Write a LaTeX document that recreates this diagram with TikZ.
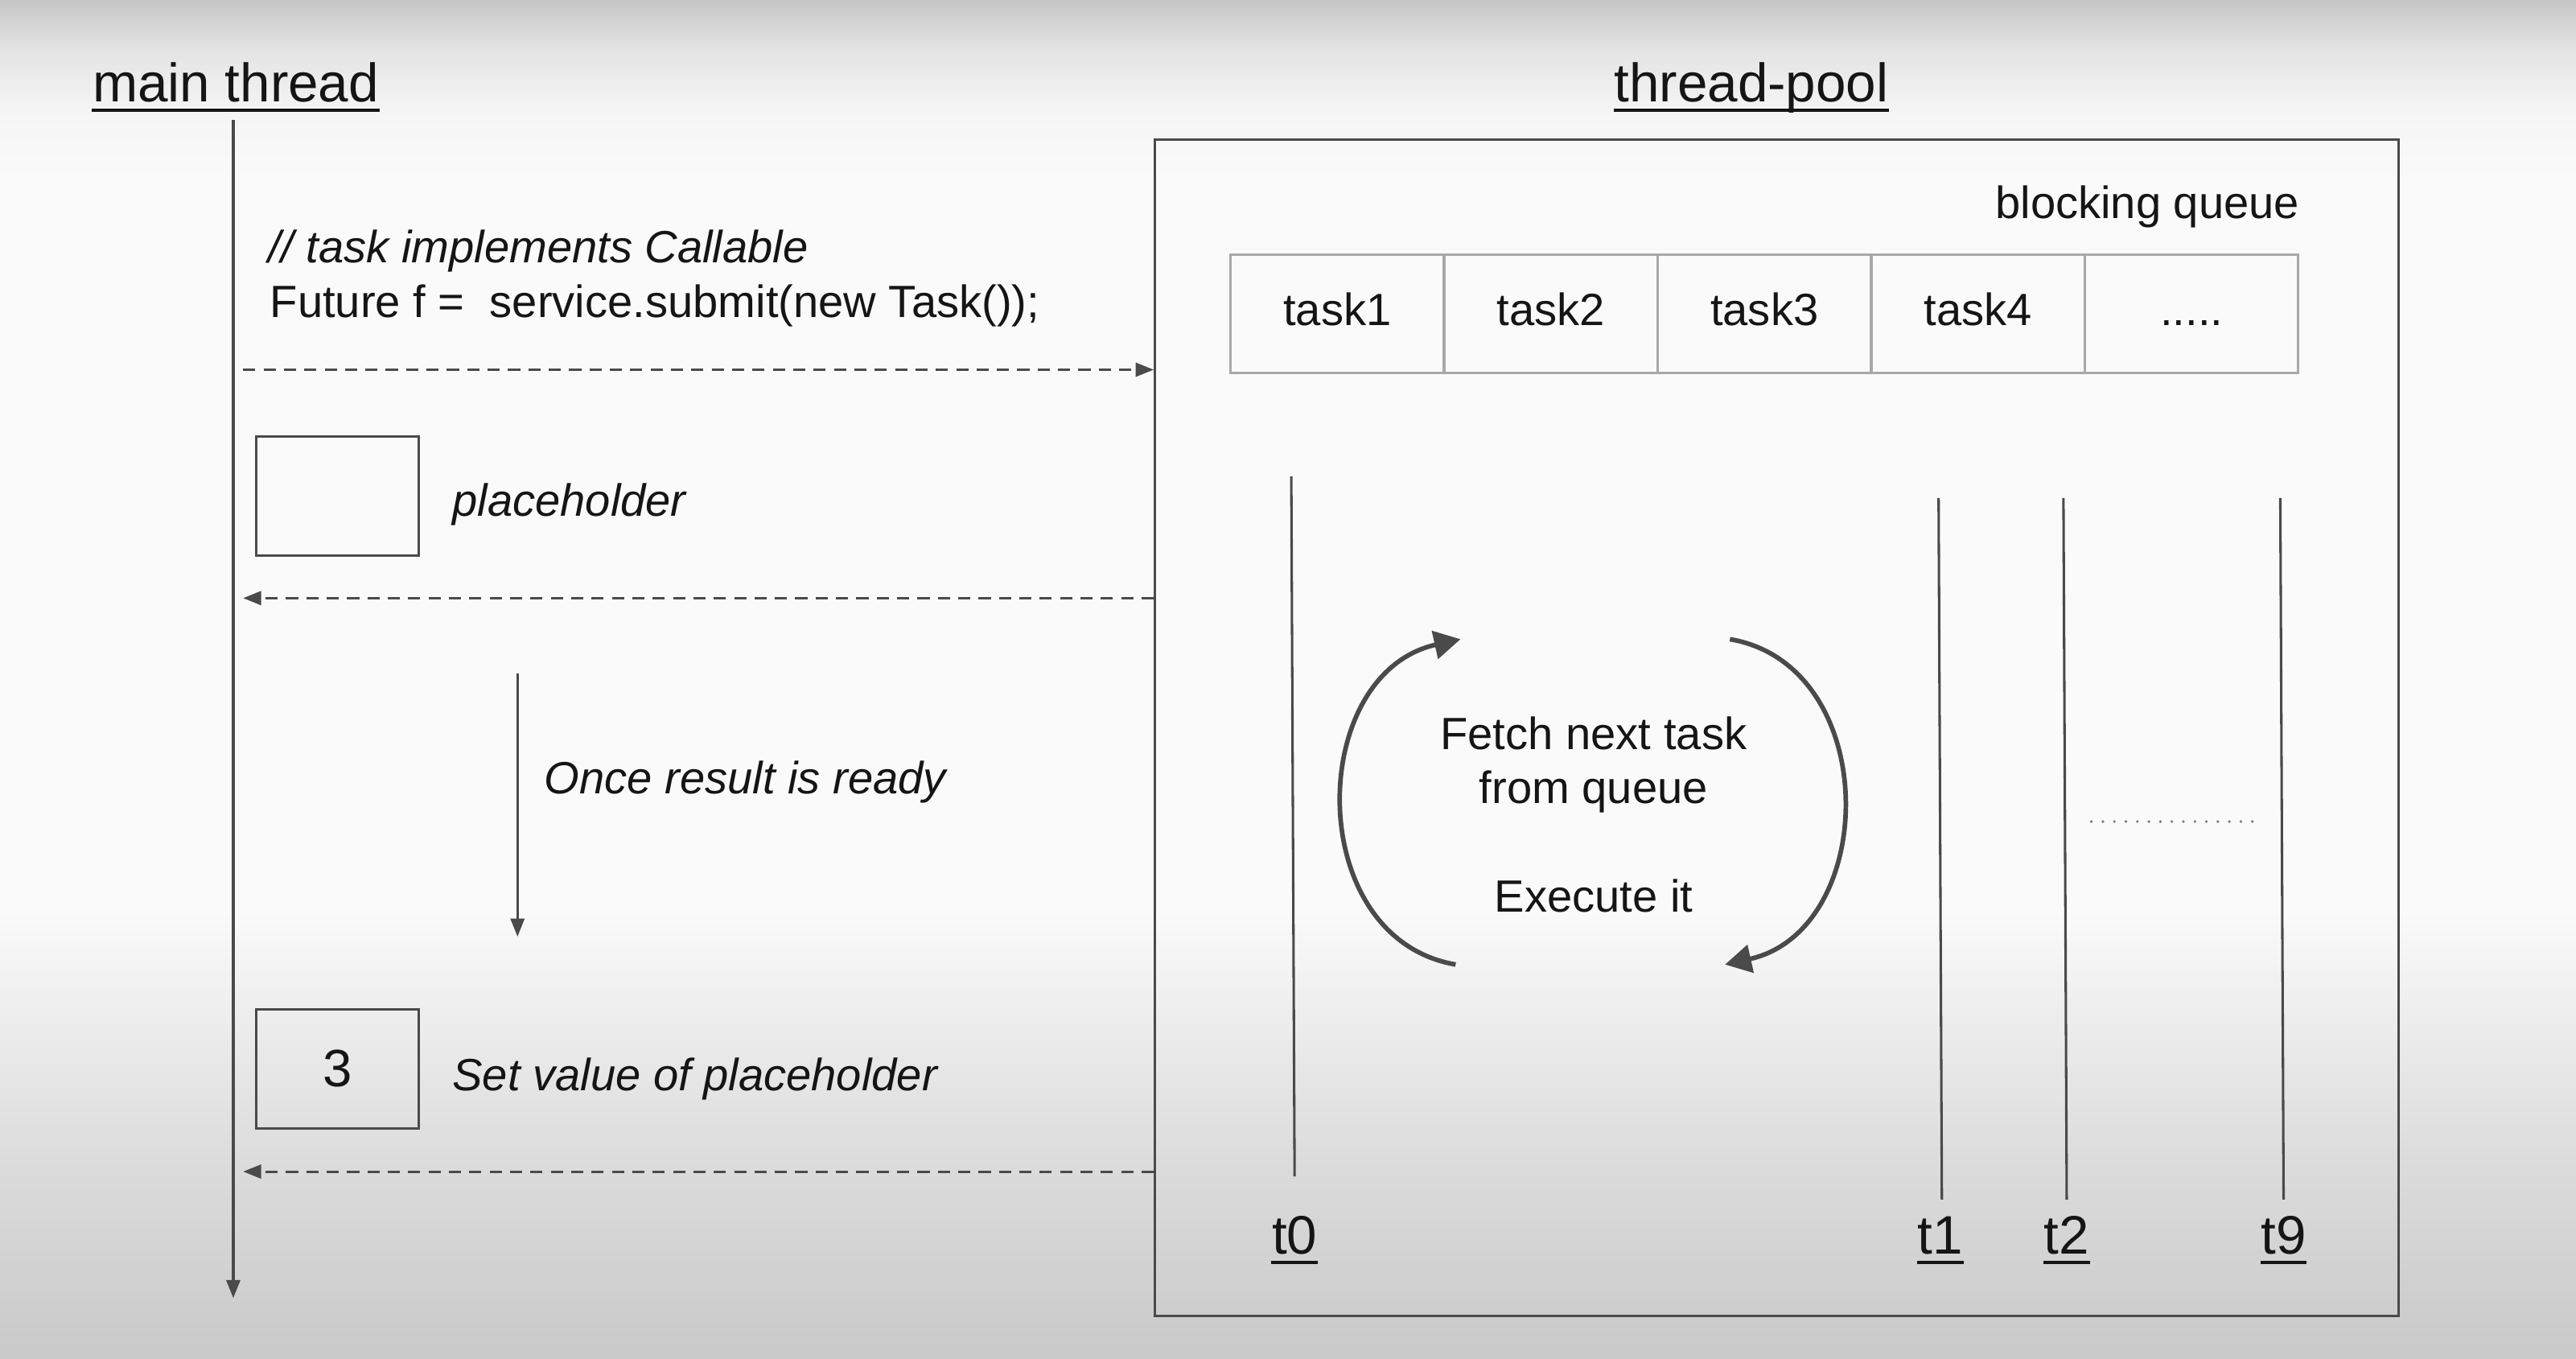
\documentclass[tikz,border=0pt]{standalone}
\usepackage{fontspec}
\setmainfont{Liberation Sans}
\usetikzlibrary{arrows.meta}
\definecolor{ln}{HTML}{4A4A4A}
\definecolor{qb}{HTML}{A8A8A8}
\definecolor{tx}{HTML}{151515}
\definecolor{dotc}{HTML}{7A7A7A}
\definecolor{bgtop}{HTML}{C6C6C6}
\definecolor{bgzero}{HTML}{E4E4E4}
\definecolor{bgone}{HTML}{F6F6F6}
\definecolor{bgmid}{HTML}{FAFAFA}
\definecolor{bgfour}{HTML}{F1F1F1}
\definecolor{bgthree}{HTML}{DDDDDD}
\definecolor{bgbot}{HTML}{C9C9C9}
\tikzset{
  thinline/.style={draw=ln, line width=0.75pt},
  dasharrow/.style={draw=ln, line width=0.75pt, dash pattern=on 3.7pt off 2.5pt, -{Triangle[length=5.5pt,width=4.2pt]}},
  solidarrow/.style={draw=ln, line width=0.75pt, -{Triangle[length=5.5pt,width=4.2pt]}},
  looparrow/.style={draw=ln, line width=1.4pt, -{Triangle[length=8pt,width=8.5pt]}},
  titletext/.style={inner sep=0pt, text=tx, font=\fontsize{16.5}{19}\selectfont},
  bodytext/.style={inner sep=0pt, text=tx, font=\fontsize{13.75}{16}\selectfont},
  ittext/.style={inner sep=0pt, text=tx, font=\fontsize{13.75}{16}\selectfont\itshape},
  cell/.style={draw=qb, line width=0.75pt, minimum width=65pt, minimum height=36pt, inner sep=0pt,
               text=tx, font=\fontsize{13.75}{16}\selectfont, text height=9pt, text depth=2pt},
  valbox/.style={draw=ln, line width=0.75pt, minimum width=49.5pt, minimum height=36.25pt, inner sep=0pt, text=tx},
  threadline/.style={draw=ln, line width=0.75pt},
  uline/.style={draw=tx, line width=0.9pt},
  dotline/.style={draw=dotc, line width=0.9pt, line cap=round, dash pattern=on 0pt off 3.5pt}
}
\begin{document}
\begin{tikzpicture}[x=0.5pt, y=-0.5pt]
  % background
  \useasboundingbox (0,0) rectangle (1568,826.6);
  \shade[top color=bgtop, bottom color=bgzero] (0,0) rectangle (1568,30.5);
  \shade[top color=bgzero, bottom color=bgone] (0,30) rectangle (1568,70.5);
  \shade[top color=bgone, bottom color=bgmid] (0,70) rectangle (1568,110.5);
  \fill[bgmid] (0,110) rectangle (1568,555.5);
  \shade[top color=bgmid, bottom color=bgfour] (0,555) rectangle (1568,600.5);
  \shade[top color=bgfour, bottom color=bgthree] (0,600) rectangle (1568,700.5);
  \shade[top color=bgthree, bottom color=bgbot] (0,700) rectangle (1568,826.6);

  % titles
  \node[titletext, anchor=base west] (mainT) at (56,62) {main thread};
  \draw[uline] ([yshift=-2.6pt]mainT.base west) -- ([yshift=-2.6pt]mainT.base east);
  \node[titletext, anchor=base] (poolT) at (1066,62) {thread-pool};
  \draw[uline] ([yshift=-2.6pt]poolT.base west) -- ([yshift=-2.6pt]poolT.base east);

  % main thread line
  \coordinate (mtop) at (142,73);
  \coordinate (mbot) at (142,790);
  \draw[solidarrow] (mtop) -- (mbot);

  % thread pool box
  \node[thinline, minimum width=378.5pt, minimum height=358pt, inner sep=0pt] (pool) at (1081.5,443) {};
  \node[bodytext, anchor=base east] (bq) at (1400,133) {blocking queue};

  % queue cells
  \node[cell] (q1) at (814,191) {task1};
  \node[cell] (q2) at (944,191) {task2};
  \node[cell] (q3) at (1074,191) {task3};
  \node[cell] (q4) at (1204,191) {task4};
  \node[cell] (q5) at (1334,191) {.....};

  % submit code
  \node[ittext, anchor=base west] (cmt) at (163,160) {// task implements Callable};
  \node[bodytext, anchor=base west] (code) at (164,193) {Future f =\ \ service.submit(new Task());};

  % arrows between main thread and pool
  \coordinate (a1) at (148,225);
  \draw[dasharrow] (a1) -- (a1 -| pool.west);
  \coordinate (a2) at (148,364);
  \draw[dasharrow] (a2 -| pool.west) -- (a2);
  \coordinate (a3) at (148,713);
  \draw[dasharrow] (a3 -| pool.west) -- (a3);

  % placeholder
  \node[valbox] (ph) at (205.5,302) {};
  \node[ittext, anchor=base west] (phT) at (275,314) {placeholder};

  % once result ready
  \coordinate (ra) at (315,410);
  \coordinate (rb) at (315,570);
  \draw[solidarrow] (ra) -- (rb);
  \node[ittext, anchor=base west] (readyT) at (331,483) {Once result is ready};

  % value box
  \node[valbox, font=\fontsize{16}{19}\selectfont] (vb) at (205.5,650.5) {3};
  \node[ittext, anchor=base west] (setT) at (275,664) {Set value of placeholder};

  % worker threads
  \coordinate (t0a) at (786,290);  \coordinate (t0b) at (788,716);
  \coordinate (t1a) at (1180,303); \coordinate (t1b) at (1182,730);
  \coordinate (t2a) at (1256,303); \coordinate (t2b) at (1258,730);
  \coordinate (t9a) at (1388,303); \coordinate (t9b) at (1390,730);
  \draw[threadline] (t0a) -- (t0b);
  \draw[threadline] (t1a) -- (t1b);
  \draw[threadline] (t2a) -- (t2b);
  \draw[threadline] (t9a) -- (t9b);

  \node[titletext, anchor=base] (t0) at (788,763) {t0};
  \node[titletext, anchor=base] (t1) at (1181,763) {t1};
  \node[titletext, anchor=base] (t2) at (1258,763) {t2};
  \node[titletext, anchor=base] (t9) at (1390,763) {t9};
  \foreach \n in {t0,t1,t2,t9}
    \draw[uline] ([yshift=-2.6pt]\n.base west) -- ([yshift=-2.6pt]\n.base east);

  % dotted line between t2 and t9
  \coordinate (d1) at (1273,500);
  \coordinate (d2) at (1378,500);
  \draw[dotline] (d1) -- (d2);

  % loop arrows
  \coordinate (la) at (886,587);
  \coordinate (lb) at (889,389);
  \coordinate (rA) at (1053,389);
  \coordinate (rB) at (1050,587);
  \draw[looparrow] (la) .. controls (793,571) and (795,410) .. (lb);
  \draw[looparrow] (rA) .. controls (1146,405) and (1144,566) .. (rB);

  \node[bodytext, anchor=base] (f1) at (970,456) {Fetch next task};
  \node[bodytext, anchor=base] (f2) at (970,489) {from queue};
  \node[bodytext, anchor=base] (f3) at (970,555) {Execute it};
\end{tikzpicture}
\end{document}
